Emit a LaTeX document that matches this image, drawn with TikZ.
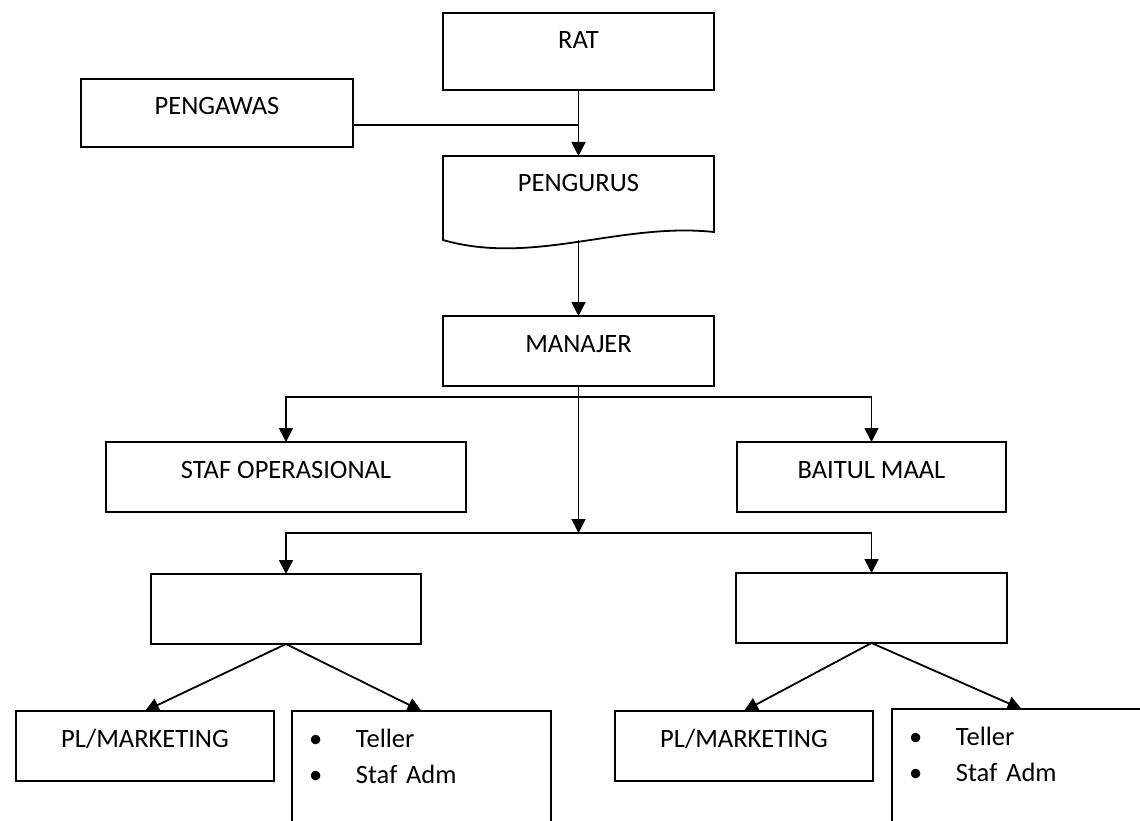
\documentclass[tikz,border=0pt]{standalone}
\usepackage{fontspec}
\setmainfont{Carlito}
\usetikzlibrary{arrows.meta}

\begin{document}
\begin{tikzpicture}[x=1pt,y=-1pt,
	box/.style={draw, line width=1.8pt, anchor=north west, outer sep=0pt,
		inner xsep=0pt, inner ysep=0pt, text height=36pt, text depth=34pt,
		font=\fontsize{26.5}{36}\selectfont},
	list/.style={box, text width=225pt, inner xsep=17pt, align=left, text depth=94pt},
	link/.style={line width=1.8pt},
	arr/.style={link, -{Triangle[width=14pt,length=14pt]}}]
	%% page
	\useasboundingbox (0,0) rectangle (1140,821);
	\fill[white] (0,0) rectangle (1140,821);
	\clip (0,0) rectangle (1140,821);
	%% top
	\node[box, minimum width=271pt, text depth=41pt] (rat) at (443,13) {RAT};
	\node[box, minimum width=272pt, text depth=32pt] (pengawas) at (81,79) {PENGAWAS};
	\node[box, draw=none, minimum width=271pt, text depth=48pt] (pengurus) at (443,156) {PENGURUS};
	\draw[link] (pengurus.north west) -- (pengurus.north east) -- ([yshift=8pt]pengurus.south east)
		.. controls ([xshift=-94pt,yshift=18pt]pengurus.south east) and ([xshift=90pt,yshift=-26pt]pengurus.south west) .. (pengurus.south west) -- cycle;
	\node[box, minimum width=271pt] (manajer) at (443,316) {MANAJER};
	%% middle
	\node[box, minimum width=360pt] (stafop) at (106,442) {STAF OPERASIONAL};
	\node[box, minimum width=269pt] (baitul) at (737,442) {BAITUL MAAL};
	\node[box, minimum width=270pt] (unitkiri) at (151,574) {};
	\node[box, minimum width=271pt] (unitkanan) at (736,573) {};
	%% bottom
	\node[box, minimum width=258pt] (plkiri) at (16,711) {PL/MARKETING};
	\node[list] (tellerkiri) at (292,711) {\makebox[47pt][l]{\textbullet}Teller\\\makebox[47pt][l]{\textbullet}Staf Adm};
	\node[box, minimum width=258pt] (plkanan) at (615,711) {PL/MARKETING};
	\node[list] (tellerkanan) at (892,709) {\makebox[47pt][l]{\textbullet}Teller\\\makebox[47pt][l]{\textbullet}Staf Adm};
	%% connectors
	\coordinate (temu) at (578.5,125);
	\coordinate (cabang) at (578.5,397);
	\coordinate (bagi) at (578.5,533);
	\draw[arr] (rat.south) -- (pengurus.north);
	\draw[link] (pengawas.east |- temu) -- (temu);
	\draw[arr] (pengurus.south) -- (manajer.north);
	\draw[arr] (manajer.south) -- (bagi);
	\draw[arr] (cabang) -| (stafop.north);
	\draw[arr] (cabang) -| (baitul.north);
	\draw[arr] (bagi) -| (unitkiri.north);
	\draw[arr] (bagi) -| (unitkanan.north);
	\draw[arr] (unitkiri.south) -- (plkiri.north);
	\draw[arr] (unitkiri.south) -- (tellerkiri.north);
	\draw[arr] (unitkanan.south) -- (plkanan.north);
	\draw[arr] (unitkanan.south) -- (tellerkanan.north);
\end{tikzpicture}
\end{document}
